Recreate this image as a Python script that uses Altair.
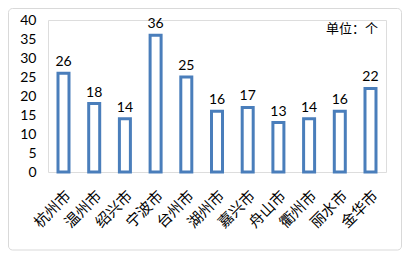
import altair as alt
import pandas as pd

cities = ["杭州市", "温州市", "绍兴市", "宁波市", "台州市", "湖州市", "嘉兴市", "舟山市", "衢州市", "丽水市", "金华市"]
counts = [26, 18, 14, 36, 25, 16, 17, 13, 14, 16, 22]
y_ticks = [0, 5, 10, 15, 20, 25, 30, 35, 40]
unit_label = "单位：个"

df = pd.DataFrame({"city": cities, "count": counts})

W, H = 338, 152

base = alt.Chart(df).encode(
    x=alt.X("city:N", sort=cities, title=None,
            scale=alt.Scale(paddingInner=0.55, paddingOuter=0.28),
            axis=alt.Axis(labelAngle=-45, labelFont="Noto Sans CJK SC", labelFontSize=15,
                          labelColor="#000", domain=False, ticks=False, labelPadding=16,
                          labelOverlap=False, zindex=2)),
    y=alt.Y("count:Q", title=None, scale=alt.Scale(domain=[0, 40]),
            axis=alt.Axis(values=y_ticks, grid=False, domain=False, ticks=False, zindex=2,
                          labelOverlap=False, labelFont="Lato", labelFontSize=14,
                          labelColor="#000", labelPadding=12)),
)

bars = base.mark_bar(size=11, fill="white", stroke="#4A7EBB", strokeWidth=3)

labels = base.mark_text(dy=-11, font="Lato", fontSize=14, color="#000").encode(
    text="count:Q",
)

frame = alt.Chart(alt.Data(values=[{}])).mark_rect(
    fillOpacity=0, stroke="#D9D9D9", strokeWidth=1, cornerRadius=4
).encode(x=alt.value(-39.5), x2=alt.value(353.5), y=alt.value(-11.5), y2=alt.value(230))

unit = alt.Chart(alt.Data(values=[{"t": unit_label}])).mark_text(
    font="Noto Sans CJK SC", fontSize=13, color="#000", align="right", baseline="middle"
).encode(x=alt.value(330), y=alt.value(9), text="t:N")

chart = alt.layer(frame, bars, labels, unit).properties(
    width=W, height=H,
    padding={"left": 40, "top": 12, "right": 16, "bottom": 80},
    autosize=alt.AutoSizeParams(type="none"),
).configure_view(stroke=None).configure(background="white")

chart.save("out.html", embed_options={"renderer": "svg", "actions": False})
